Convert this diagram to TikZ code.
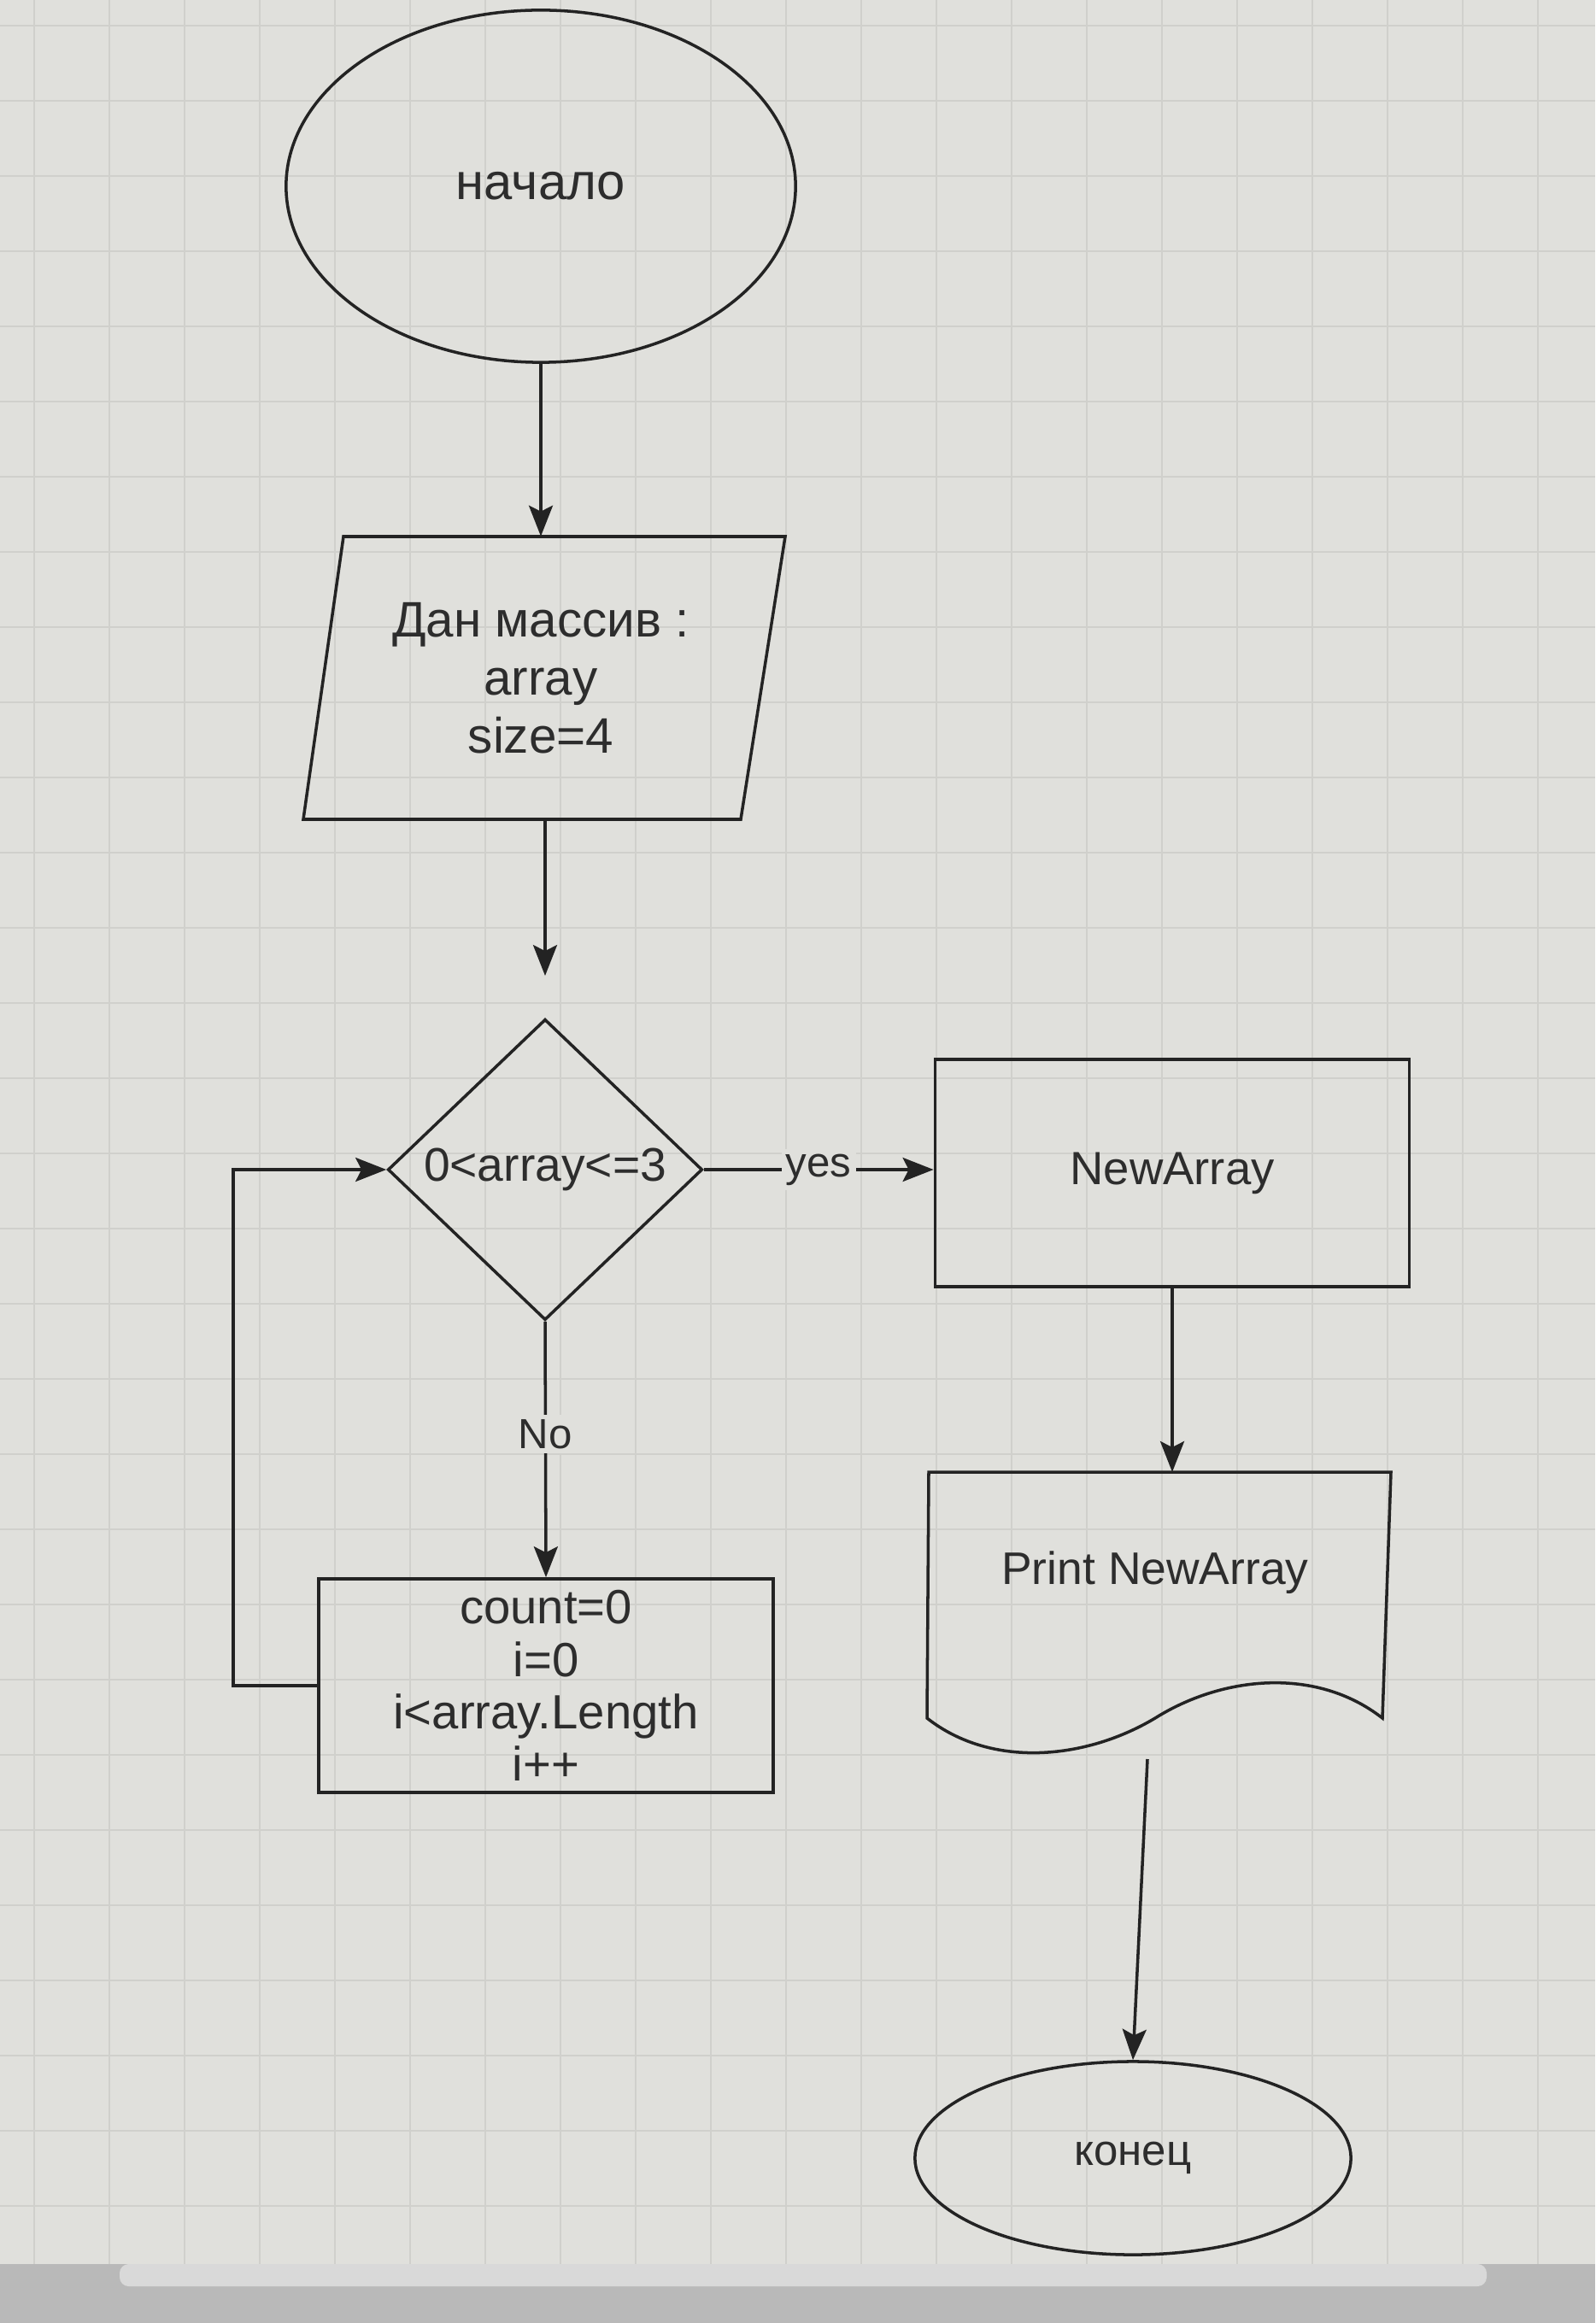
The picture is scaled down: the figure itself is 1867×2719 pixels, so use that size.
\documentclass[tikz,border=0pt]{standalone}
\usepackage{fontspec}
\setmainfont{Liberation Sans}
\usetikzlibrary{shapes.geometric,arrows.meta}
\definecolor{bgc}{RGB}{224,224,220}
\definecolor{gridc}{RGB}{208,208,204}
\definecolor{ink}{RGB}{35,35,35}
\definecolor{txt}{RGB}{45,45,45}
\tikzset{
  shp/.style={draw=ink, line width=1pt},
  arr/.style={draw=ink, line width=1pt, -{Stealth[length=0.36cm,width=0.28cm,inset=0.07cm]}},
  lbl/.style={text=txt, font=\fontsize{14}{16}\selectfont, fill=bgc, inner sep=1.5pt},
  txtnode/.style={text=txt, align=center, inner sep=0pt},
}
\begin{document}
\begin{tikzpicture}[x=0.01cm,y=-0.01cm]
\useasboundingbox (0,0) rectangle (1867,2719);
\fill[bgc] (0,0) rectangle (1867,2719);
% faint grid
\foreach \gx in {40,128,...,1867} \draw[gridc, line width=0.5pt] (\gx,0) -- (\gx,2650);
\foreach \gy in {30,118,...,2650} \draw[gridc, line width=0.5pt] (0,\gy) -- (1867,\gy);
% bottom band
\fill[gray!55] (0,2650) rectangle (1867,2719);
\fill[gray!30, rounded corners=3pt] (140,2650) rectangle (1740,2676);

% start
\node[ellipse, shp, minimum width=5.96cm, minimum height=4.12cm, txtnode,
      font=\fontsize{17}{20}\selectfont] (start) at (633,218) {начало};

% input parallelogram
\draw[shp] (402,628) -- (919,628) -- (867,959) -- (355,959) -- cycle;
\node[txtnode, minimum height=3.31cm, minimum width=4.5cm,
      font=\fontsize{16.6}{19.3}\selectfont] (in) at (633,794) {Дан массив :\\array\\size=4};

% decision
\node[diamond, shp, minimum width=3.68cm, minimum height=3.52cm, aspect=1.045,
      txtnode, font=\fontsize{15.7}{18}\selectfont] (dec) at (638,1369) {0<array<=3};

% NewArray
\node[rectangle, shp, minimum width=5.55cm, minimum height=2.66cm, txtnode,
      font=\fontsize{15.5}{18}\selectfont] (new) at (1372,1373) {NewArray};

% count box
\node[rectangle, shp, minimum width=5.32cm, minimum height=2.50cm, txtnode,
      font=\fontsize{16}{17.4}\selectfont] (cnt) at (639,1973) {count=0\\i=0\\i<array.Length\\i++};

% document
\draw[shp] (1085,2011) -- (1087,1723) -- (1628,1723) -- (1618,2011)
  .. controls (1540,1950) and (1430,1962) .. (1352,2011)
  .. controls (1270,2060) and (1160,2070) .. cycle;
\node[txtnode, font=\fontsize{15.2}{18}\selectfont] (doc) at (1352,1841) {Print NewArray};
\coordinate (docTop) at (1372,1723);
\coordinate (docBot) at (1343,2059);

% end
\node[ellipse, shp, minimum width=5.10cm, minimum height=2.26cm, txtnode,
      font=\fontsize{14.5}{17}\selectfont] (fin) at (1326,2526) {конец};

% connectors
\draw[arr] (start.south) -- (in.north);
\draw[arr, shorten >=0.49cm] (in.south -| dec.north) -- (dec.north);
\draw[arr] (dec.east) -- node[lbl] {yes} (dec.east -| new.west);
\draw[arr] (dec.south) -- node[lbl, pos=0.44] {No} (cnt.north);
\draw[arr] (new.south) -- (docTop);
\draw[arr] (docBot) -- (fin.north);
\draw[arr] (cnt.west) -- (273,1973) -- (273,1369) -- (dec.west);
\end{tikzpicture}
\end{document}
